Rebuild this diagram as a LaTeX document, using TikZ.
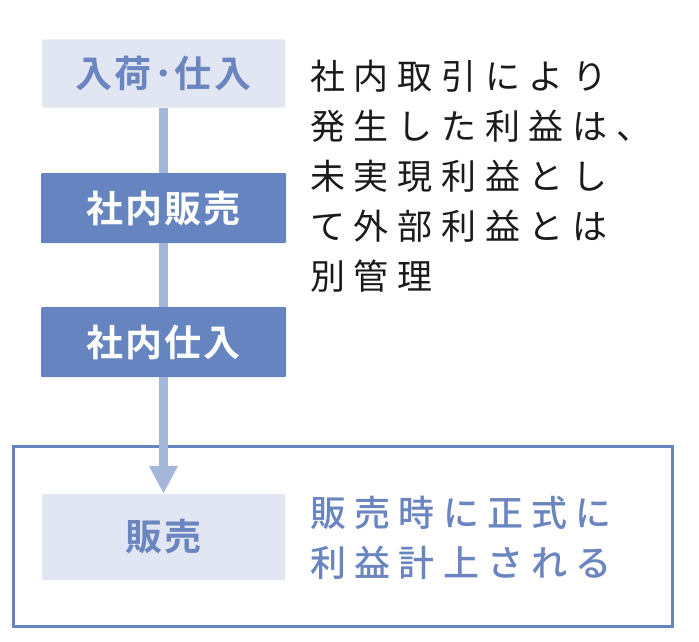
\documentclass[tikz,border=0pt]{standalone}
\usepackage{fontspec}
\usetikzlibrary{arrows.meta}
\newfontfamily\jpreg[LetterSpace=25]{Noto Sans CJK JP}
\newfontfamily\jpmed[LetterSpace=23]{Noto Sans CJK JP Medium}
\newfontfamily\jpbox[LetterSpace=6]{Noto Sans CJK JP Bold}
\definecolor{flowdark}{HTML}{6685C0}
\definecolor{flowlight}{HTML}{E1E6F2}
\definecolor{flowline}{HTML}{A5B6DB}
\definecolor{flowtext}{HTML}{6A85C0}
\definecolor{noteink}{HTML}{1A1A1A}
\begin{document}
\begin{tikzpicture}[
    x=1pt, y=-1pt,
    stage/.style={minimum width=245pt, minimum height=70pt, inner sep=0pt, rounded corners=1pt, font=\jpbox\fontsize{37}{40}\selectfont},
    lightstage/.style={stage, fill=flowlight, text=flowtext},
    darkstage/.style={stage, fill=flowdark, text=white},
    note/.style={anchor=west, align=left, inner sep=0pt},
    flow/.style={line width=9pt, flowline},
]
    \useasboundingbox (0,0) rectangle (699,642);

    % Frame round the final stage
    \node[draw=flowdark, line width=3pt, minimum width=659pt, minimum height=180pt, inner sep=0pt] (frame) at (343,536.5) {};

    % Stages
    \node[lightstage, minimum width=243pt, minimum height=68pt] (arrival) at (163.5,73.5) {入荷･仕入};
    \node[darkstage] (intsale) at (163.5,208) {社内販売};
    \node[darkstage] (intpurch) at (163.5,342) {社内仕入};
    \node[lightstage, minimum width=243pt, minimum height=86pt] (sale) at (163.5,537) {販売};

    % Flow
    \draw[flow] (arrival) -- (intsale);
    \draw[flow] (intsale) -- (intpurch);
    \draw[flow, -{Triangle[width=27pt, length=28pt]}] (intpurch) -- (sale);

    % Notes
    \node[note, text=noteink, font=\jpreg\fontsize{35}{50}\selectfont] (internal) at (310,176) {社内取引により\\発生した利益は、\\未実現利益とし\\て外部利益とは\\別管理};
    \node[note, text=flowtext, font=\jpmed\fontsize{36}{50}\selectfont] (recognised) at (310,538) {販売時に正式に\\利益計上される};
\end{tikzpicture}
\end{document}
